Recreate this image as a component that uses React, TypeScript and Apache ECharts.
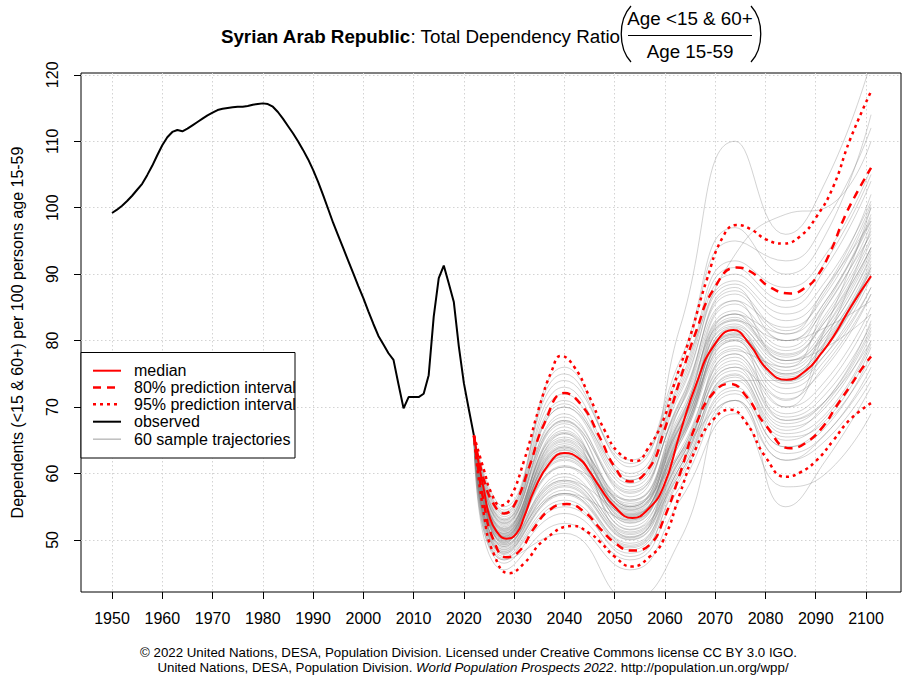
import React, { useEffect, useRef } from "react";
import * as echarts from "echarts";

const FONT = "'Liberation Sans', Arial, Helvetica, sans-serif";
const BASE = 16;

const xTickYears = [1950, 1960, 1970, 1980, 1990, 2000, 2010, 2020, 2030, 2040, 2050, 2060, 2070, 2080, 2090, 2100];
const yTickValues = [50, 60, 70, 80, 90, 100, 110, 120];

const observedStartYear = 1950;
const observedValues = [
  99.2, 99.7, 100.3, 101.0, 101.8, 102.7, 103.6, 104.9, 106.3, 107.9,
  109.4, 110.6, 111.4, 111.7, 111.5, 111.9, 112.4, 112.9, 113.4, 113.9,
  114.3, 114.7, 114.9, 115.0, 115.1, 115.2, 115.2, 115.3, 115.5, 115.6,
  115.7, 115.6, 115.2, 114.4, 113.4, 112.3, 111.2, 110.0, 108.7, 107.3,
  105.7, 103.9, 101.9, 99.8, 97.7, 95.8, 93.9, 92.0, 90.1, 88.2,
  86.4, 84.4, 82.5, 80.7, 79.4, 78.1, 77.1, 73.4, 69.8, 71.5,
  71.5, 71.5, 72.0, 74.8, 83.6, 89.4, 91.3, 88.6, 85.8, 79.1,
  73.6, 69.6, 65.7,
];

const median = [
  [2022, 65.7], [2023, 61.3], [2024, 57.5], [2025, 53.8], [2026.5, 51.3], [2028.5, 50.2],
  [2030.5, 51.0], [2032, 53.5], [2034, 57.5], [2037, 61.5], [2040, 63.1], [2043, 62.2],
  [2045, 60.3], [2047, 58.0], [2050, 55.0], [2053.5, 53.3], [2056.5, 54.5], [2059.7, 58.0],
  [2063, 66.1], [2066.3, 73.6], [2069.6, 79.1], [2073.6, 81.6], [2076.9, 79.4], [2080.2, 75.8],
  [2084.2, 74.1], [2088.2, 75.6], [2091, 78.0], [2093.5, 80.6], [2097, 85.1], [2101, 89.7],
];

const pi80Upper = [
  [2022, 65.7], [2024, 59.0], [2026, 55.3], [2028, 54.0], [2030, 55.2], [2033, 61.0],
  [2036, 67.5], [2040, 72.1], [2043.5, 70.2], [2047, 65.5], [2050, 61.0], [2053, 58.8],
  [2057, 61.0], [2059.7, 66.1], [2063, 74.1], [2066.3, 81.6], [2069.6, 87.6], [2074.3, 91.0],
  [2077, 90.4], [2081, 88.0], [2085, 87.1], [2088, 88.0], [2090.2, 89.6], [2093, 93.5],
  [2095.5, 98.2], [2098, 102.0], [2101, 106.0],
];

const pi80Lower = [
  [2022, 65.7], [2024, 55.5], [2026, 49.8], [2028.5, 47.4], [2031, 48.3], [2034, 51.8],
  [2037, 54.5], [2040.5, 55.4], [2044, 54.2], [2047, 51.8], [2050, 49.6], [2053.4, 48.4],
  [2057, 49.3], [2059.7, 53.0], [2063, 60.0], [2066.3, 67.6], [2069.6, 72.1], [2073, 73.5],
  [2076.2, 71.6], [2080, 67.3], [2085, 63.8], [2088, 64.6], [2091.5, 67.1], [2094, 70.0],
  [2096.8, 73.1], [2099, 75.6], [2101, 77.6],
];

const pi95Upper = [
  [2022, 65.7], [2024, 60.5], [2025.5, 57.0], [2027.3, 55.2], [2029, 56.0], [2032, 62.0],
  [2035, 70.0], [2037.5, 75.5], [2039.3, 77.7], [2042, 76.0], [2045, 71.5], [2048, 66.5],
  [2051, 63.0], [2054.4, 61.9], [2056.4, 63.5], [2059.7, 68.1], [2061.7, 73.1], [2065, 80.6],
  [2068.3, 89.1], [2071.6, 95.7], [2074.3, 97.4], [2077, 96.8], [2080.2, 95.2], [2083.5, 94.6],
  [2086.9, 95.7], [2090.2, 98.7], [2093.5, 103.2], [2096.8, 110.2], [2101, 117.5],
];

const pi95Lower = [
  [2022, 65.7], [2024, 53.8], [2026, 47.8], [2029, 45.0], [2032, 46.5], [2036, 50.0],
  [2041.8, 52.1], [2045, 51.0], [2047, 49.8], [2050, 47.5], [2053.4, 46.0], [2057, 47.5],
  [2059.7, 50.0], [2063, 57.0], [2066.3, 64.0], [2069.6, 68.1], [2073, 69.6], [2076.2, 67.6],
  [2080, 62.5], [2084, 59.5], [2087, 60.2], [2090.2, 62.0], [2093.5, 65.0], [2096.8, 68.1],
  [2101, 70.6],
];

const trajectoryYears = [2022, 2028, 2040, 2053, 2063, 2074, 2084, 2092, 2101];
const trajectoryStart = 65.7;
const trajectories = [
  [50.5, 63.0, 53.5, 66.0, 82.0, 74.0, 79.0, 90.0],
  [49.0, 60.0, 51.0, 63.0, 78.0, 70.0, 74.0, 85.0],
  [52.0, 67.0, 52.0, 62.0, 78.0, 70.0, 80.0, 97.0],
  [48.0, 57.0, 49.5, 61.0, 75.0, 66.0, 69.0, 80.0],
  [53.0, 70.0, 58.0, 72.0, 89.0, 84.0, 89.0, 101.0],
  [50.0, 62.0, 52.5, 65.0, 80.0, 72.0, 76.0, 87.0],
  [51.0, 65.0, 54.5, 67.0, 84.0, 77.0, 81.0, 93.0],
  [47.5, 56.0, 48.5, 60.0, 73.0, 64.0, 67.0, 78.0],
  [54.0, 73.0, 60.0, 74.0, 92.0, 88.0, 93.0, 106.0],
  [49.5, 61.0, 56.0, 70.0, 86.0, 77.0, 79.0, 84.0],
  [50.8, 64.0, 55.0, 68.0, 81.0, 75.0, 80.0, 92.0],
  [46.5, 54.0, 47.0, 58.0, 71.0, 62.0, 65.0, 74.0],
  [52.5, 68.0, 57.0, 70.0, 83.0, 80.0, 86.0, 98.0],
  [49.2, 59.0, 50.5, 62.5, 77.0, 68.0, 71.0, 83.0],
  [51.3, 66.0, 55.5, 63.0, 76.0, 71.0, 82.0, 100.0],
  [55.0, 76.0, 61.0, 76.0, 95.0, 92.0, 98.0, 112.0],
  [48.5, 58.0, 50.0, 62.0, 76.0, 67.0, 70.0, 81.0],
  [50.2, 62.5, 53.0, 65.5, 80.5, 74.5, 79.0, 91.0],
  [51.8, 64.5, 54.0, 67.5, 83.5, 78.0, 83.0, 94.0],
  [47.0, 55.0, 48.0, 59.0, 72.0, 63.0, 66.0, 76.0],
  [53.5, 71.0, 59.0, 73.0, 90.0, 85.0, 91.0, 104.0],
  [49.8, 59.0, 53.8, 70.0, 88.0, 80.0, 82.0, 86.0],
  [50.6, 63.5, 52.8, 64.5, 81.0, 74.0, 78.0, 88.0],
  [52.2, 69.0, 56.5, 71.0, 87.0, 81.0, 86.0, 99.0],
  [48.2, 57.5, 49.2, 61.5, 74.5, 65.5, 68.0, 79.0],
  [51.0, 64.8, 54.2, 66.8, 82.5, 76.5, 81.5, 93.5],
  [49.6, 64.0, 51.5, 61.0, 78.5, 76.0, 85.0, 96.0],
  [45.5, 52.5, 45.5, 56.0, 69.0, 58.0, 60.0, 69.0],
  [54.5, 74.0, 62.0, 77.0, 97.0, 90.0, 96.0, 114.0],
  [50.4, 62.8, 54.8, 67.2, 80.8, 75.5, 80.5, 90.5],
  [51.5, 66.5, 53.6, 65.2, 83.0, 77.5, 83.5, 95.5],
  [48.8, 59.5, 51.2, 63.5, 77.5, 69.0, 73.0, 84.0],
  [52.8, 68.5, 57.5, 70.5, 86.0, 82.0, 87.0, 100.0],
  [49.4, 68.0, 55.0, 67.0, 80.0, 68.0, 71.0, 80.0],
  [50.9, 63.8, 54.6, 66.4, 81.8, 76.0, 81.0, 92.5],
  [47.8, 56.8, 48.8, 60.5, 74.0, 65.0, 68.5, 79.5],
  [53.2, 70.5, 58.5, 72.5, 88.5, 83.0, 88.0, 102.0],
  [50.1, 62.2, 53.2, 65.8, 80.2, 73.5, 78.0, 89.5],
  [51.6, 65.5, 55.8, 68.5, 84.0, 78.5, 84.0, 96.5],
  [49.0, 58.8, 50.8, 63.0, 76.5, 68.5, 72.0, 82.5],
  [53.0, 70.0, 59.0, 82.0, 110.0, 96.0, 104.0, 122.0],
  [47.0, 51.0, 41.0, 50.0, 71.0, 62.0, 66.0, 75.0],
  [48.3, 58.2, 50.3, 62.8, 71.0, 55.0, 62.0, 73.0],
  [50.7, 63.2, 53.9, 65.0, 81.2, 74.8, 79.5, 91.5],
  [52.4, 67.5, 55.2, 68.2, 85.5, 80.0, 85.0, 97.5],
  [49.3, 57.0, 53.0, 68.0, 84.0, 81.0, 88.0, 98.0],
  [51.2, 64.2, 54.4, 67.8, 82.2, 77.0, 82.0, 94.0],
  [47.2, 55.5, 47.5, 59.5, 72.5, 64.0, 67.5, 77.0],
  [53.8, 72.0, 59.5, 73.5, 91.0, 86.0, 92.0, 105.0],
  [50.3, 66.0, 50.4, 60.0, 74.0, 74.0, 82.0, 94.0],
  [51.4, 65.2, 56.0, 69.0, 84.5, 79.0, 85.5, 98.5],
  [48.6, 58.5, 50.1, 62.2, 75.5, 67.5, 71.0, 82.0],
  [52.6, 67.8, 57.2, 70.8, 87.5, 81.5, 87.5, 100.5],
  [49.9, 61.2, 52.6, 65.2, 79.2, 72.8, 77.2, 88.0],
  [50.5, 63.6, 53.4, 66.2, 81.5, 75.0, 79.8, 91.0],
  [54.2, 75.0, 61.5, 75.0, 93.0, 99.0, 100.0, 110.0],
  [48.0, 57.0, 49.0, 61.0, 74.8, 66.5, 70.5, 81.5],
  [51.7, 66.2, 55.0, 67.0, 83.2, 77.8, 83.0, 95.0],
  [49.7, 61.0, 51.6, 64.6, 78.8, 71.2, 76.5, 87.0],
  [50.2, 62.6, 53.7, 65.6, 80.6, 73.8, 78.8, 90.0],
];

const legendItems = [
  { label: "median", color: "#ff0000", dash: null as any, width: 2 },
  { label: "80% prediction interval", color: "#ff0000", dash: [8, 6], width: 2.5 },
  { label: "95% prediction interval", color: "#ff0000", dash: [3, 4], width: 2.5 },
  { label: "observed", color: "#000000", dash: null as any, width: 2 },
  { label: "60 sample trajectories", color: "#bebebe", dash: null as any, width: 1.5 },
];

export default function App() {
  const ref = useRef<HTMLDivElement>(null);

  useEffect(() => {
    const chart = echarts.init(ref.current!, null, { renderer: "svg" });

    const series: any[] = [];
    trajectories.forEach((row, k) => {
      series.push({
        type: "line",
        name: "trajectory " + (k + 1),
        data: [trajectoryStart, ...row].map((v, i) => [trajectoryYears[i], v]),
        smooth: 0.5,
        symbol: "none",
        showSymbol: false,
        silent: true,
        z: 1,
        lineStyle: { color: "rgba(128,128,128,0.35)", width: 1 },
      });
    });
    series.push({
      type: "line",
      name: "observed",
      data: observedValues.map((v, i) => [observedStartYear + i, v]),
      symbol: "none",
      showSymbol: false,
      silent: true,
      z: 3,
      lineStyle: { color: "#000", width: 2 },
    });
    const band = (name: string, data: number[][], type: any) => ({
      type: "line",
      name,
      data,
      smooth: 0.5,
      symbol: "none",
      showSymbol: false,
      silent: true,
      z: 4,
      lineStyle: { color: "#ff0000", width: 2.5, type, cap: "butt" },
    });
    series.push(band("95% upper", pi95Upper, [3, 4]));
    series.push(band("95% lower", pi95Lower, [3, 4]));
    series.push(band("80% upper", pi80Upper, [8, 6]));
    series.push(band("80% lower", pi80Lower, [8, 6]));
    series.push({
      type: "line",
      name: "median",
      data: median,
      smooth: 0.5,
      symbol: "none",
      showSymbol: false,
      silent: true,
      z: 5,
      lineStyle: { color: "#ff0000", width: 2 },
    });

    const legendX = 81, legendY = 352.5, legendW = 214, legendH = 105.5;
    const rowYs = [370.7, 387.5, 404.3, 421.7, 439.2];
    const graphics: any[] = [
      {
        type: "rect",
        z: 100,
        shape: { x: legendX, y: legendY, width: legendW, height: legendH },
        style: { fill: "#fff", stroke: "#000", lineWidth: 1 },
      },
    ];
    legendItems.forEach((it, i) => {
      graphics.push({
        type: "line",
        z: 101,
        shape: { x1: 93, y1: rowYs[i], x2: 121, y2: rowYs[i] },
        style: { stroke: it.color, lineWidth: it.width, lineDash: it.dash },
      });
      graphics.push({
        type: "text",
        z: 101,
        x: 134,
        y: rowYs[i],
        style: { text: it.label, fill: "#000", fontSize: BASE, fontFamily: FONT, align: "left", verticalAlign: "middle" },
      });
    });
    graphics.push({
      type: "text",
      z: 101,
      x: 620,
      y: 36,
      style: {
        text: "{b|Syrian Arab Republic}{n|: Total Dependency Ratio}",
        align: "right",
        verticalAlign: "middle",
        fill: "#000",
        rich: {
          b: { fontSize: 18.8, fontWeight: "bold", fontFamily: FONT, fill: "#000" },
          n: { fontSize: 18.8, fontFamily: FONT, fill: "#000" },
        },
      },
    });
    graphics.push({
      type: "text", z: 101, x: 690, y: 18,
      style: { text: "Age <15 & 60+", fontSize: 18.8, fontFamily: FONT, fill: "#000", align: "center", verticalAlign: "middle" },
    });
    graphics.push({
      type: "line", z: 101,
      shape: { x1: 628, y1: 35.5, x2: 752, y2: 35.5 },
      style: { stroke: "#000", lineWidth: 1 },
    });
    graphics.push({
      type: "text", z: 101, x: 690, y: 51,
      style: { text: "Age 15-59", fontSize: 18.8, fontFamily: FONT, fill: "#000", align: "center", verticalAlign: "middle" },
    });
    graphics.push({
      type: "bezierCurve", z: 101,
      shape: { x1: 631, y1: 6, x2: 631, y2: 62, cpx1: 618, cpy1: 20, cpx2: 618, cpy2: 48 },
      style: { stroke: "#000", lineWidth: 1.3, fill: "none" },
    });
    graphics.push({
      type: "bezierCurve", z: 101,
      shape: { x1: 751, y1: 6, x2: 751, y2: 62, cpx1: 764, cpy1: 20, cpx2: 764, cpy2: 48 },
      style: { stroke: "#000", lineWidth: 1.3, fill: "none" },
    });
    graphics.push({
      type: "text", z: 101, x: 468.5, y: 652,
      style: {
        text: "© 2022 United Nations, DESA, Population Division. Licensed under Creative Commons license CC BY 3.0 IGO.",
        fontSize: 13.3, fontFamily: FONT, fill: "#000", align: "center", verticalAlign: "middle",
      },
    });
    graphics.push({
      type: "text", z: 101, x: 473, y: 667,
      style: {
        text: "{n|United Nations, DESA, Population Division. }{i|World Population Prospects 2022}{n|. http://population.un.org/wpp/}",
        align: "center", verticalAlign: "middle", fill: "#000",
        rich: {
          n: { fontSize: 13.3, fontFamily: FONT, fill: "#000" },
          i: { fontSize: 13.3, fontFamily: FONT, fontStyle: "italic", fill: "#000" },
        },
      },
    });

    chart.setOption({
      animation: false,
      backgroundColor: "#fff",
      grid: {
        left: 81, top: 73, width: 820, height: 519,
        show: true, borderColor: "#000", borderWidth: 1, backgroundColor: "transparent",
      },
      xAxis: {
        type: "value",
        min: 1943.83,
        max: 2106.96,
        axisLine: { show: false },
        axisTick: { show: true, length: 7, lineStyle: { color: "#000", width: 1 }, customValues: xTickYears },
        axisLabel: { color: "#000", fontSize: BASE, fontFamily: FONT, margin: 18, customValues: xTickYears, formatter: (v: number) => String(v) },
        splitLine: { show: true, lineStyle: { color: "#d3d3d3", width: 1, type: [1.5, 2.5] } },
      },
      yAxis: {
        type: "value",
        min: 42.17,
        max: 120.27,
        name: "Dependents (<15 & 60+) per 100 persons age 15-59",
        nameLocation: "middle",
        nameGap: 56,
        nameTextStyle: { color: "#000", fontSize: BASE, fontFamily: FONT },
        axisLine: { show: false },
        axisTick: { show: true, length: 7, lineStyle: { color: "#000", width: 1 }, customValues: yTickValues },
        axisLabel: { color: "#000", fontSize: BASE, fontFamily: FONT, margin: 21, rotate: 90, customValues: yTickValues, formatter: (v: number) => String(v) },
        splitLine: { show: true, lineStyle: { color: "#d3d3d3", width: 1, type: [1.5, 2.5] } },
      },
      series,
      graphic: graphics,
    });

    return () => chart.dispose();
  }, []);

  return (
    <div
      ref={ref}
      style={{ position: "fixed", left: 0, top: 0, width: 907, height: 680, background: "#fff" }}
    />
  );
}
